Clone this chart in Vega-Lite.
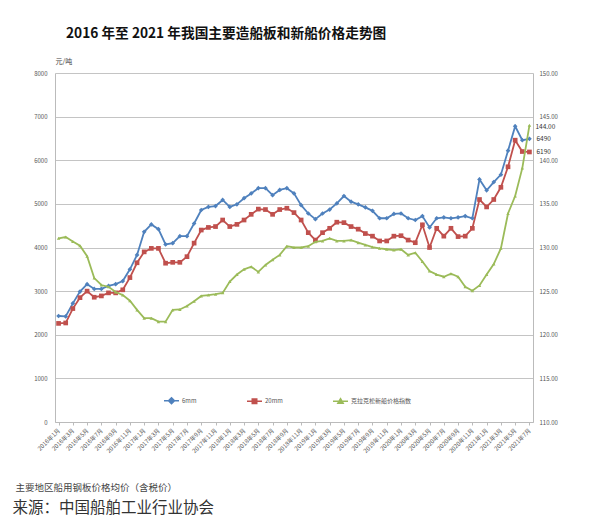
{
  "$schema": "https://vega.github.io/schema/vega-lite/v6.json",
  "width": 478,
  "height": 349,
  "autosize": {"type": "none"},
  "padding": {"left": 55, "top": 73, "right": 67, "bottom": 106},
  "background": "white",
  "title": {"text": "2016 年至 2021 年我国主要造船板和新船价格走势图", "anchor": "start", "frame": "group", "dx": 11, "dy": -12, "fontSize": 13.7, "fontWeight": "bold", "font": "Noto Sans CJK SC", "color": "#111"},
  "config": {"font": "Noto Sans CJK SC", "view": {"stroke": null}},
  "data": {"values": [
    {"m": "2016年1月", "6mm": 2430, "20mm": 2260, "idx": 131.05},
    {"m": "2016年2月", "6mm": 2420, "20mm": 2270, "idx": 131.2},
    {"m": "2016年3月", "6mm": 2720, "20mm": 2600, "idx": 130.7},
    {"m": "2016年4月", "6mm": 2990, "20mm": 2850, "idx": 130.2},
    {"m": "2016年5月", "6mm": 3160, "20mm": 3000, "idx": 129.0},
    {"m": "2016年6月", "6mm": 3050, "20mm": 2860, "idx": 126.5},
    {"m": "2016年7月", "6mm": 3050, "20mm": 2890, "idx": 125.7},
    {"m": "2016年8月", "6mm": 3120, "20mm": 2960, "idx": 125.5},
    {"m": "2016年9月", "6mm": 3160, "20mm": 2960, "idx": 124.9},
    {"m": "2016年10月", "6mm": 3230, "20mm": 3030, "idx": 124.55},
    {"m": "2016年11月", "6mm": 3500, "20mm": 3310, "idx": 123.9},
    {"m": "2016年12月", "6mm": 3830, "20mm": 3650, "idx": 122.85},
    {"m": "2017年1月", "6mm": 4360, "20mm": 3900, "idx": 121.9},
    {"m": "2017年2月", "6mm": 4530, "20mm": 3980, "idx": 121.9},
    {"m": "2017年3月", "6mm": 4420, "20mm": 3980, "idx": 121.5},
    {"m": "2017年4月", "6mm": 4070, "20mm": 3640, "idx": 121.5},
    {"m": "2017年5月", "6mm": 4100, "20mm": 3660, "idx": 122.85},
    {"m": "2017年6月", "6mm": 4260, "20mm": 3660, "idx": 122.9},
    {"m": "2017年7月", "6mm": 4260, "20mm": 3790, "idx": 123.3},
    {"m": "2017年8月", "6mm": 4550, "20mm": 4100, "idx": 123.85},
    {"m": "2017年9月", "6mm": 4860, "20mm": 4400, "idx": 124.45},
    {"m": "2017年10月", "6mm": 4930, "20mm": 4460, "idx": 124.55},
    {"m": "2017年11月", "6mm": 4950, "20mm": 4480, "idx": 124.65},
    {"m": "2017年12月", "6mm": 5090, "20mm": 4630, "idx": 124.8},
    {"m": "2018年1月", "6mm": 4930, "20mm": 4480, "idx": 126.1},
    {"m": "2018年2月", "6mm": 4990, "20mm": 4530, "idx": 126.9},
    {"m": "2018年3月", "6mm": 5130, "20mm": 4630, "idx": 127.5},
    {"m": "2018年4月", "6mm": 5240, "20mm": 4760, "idx": 127.8},
    {"m": "2018年5月", "6mm": 5360, "20mm": 4880, "idx": 127.2},
    {"m": "2018年6月", "6mm": 5360, "20mm": 4870, "idx": 128.0},
    {"m": "2018年7月", "6mm": 5200, "20mm": 4760, "idx": 128.6},
    {"m": "2018年8月", "6mm": 5320, "20mm": 4870, "idx": 129.15},
    {"m": "2018年9月", "6mm": 5360, "20mm": 4900, "idx": 130.15},
    {"m": "2018年10月", "6mm": 5240, "20mm": 4800, "idx": 130.0},
    {"m": "2018年11月", "6mm": 4970, "20mm": 4630, "idx": 130.0},
    {"m": "2018年12月", "6mm": 4780, "20mm": 4340, "idx": 130.15},
    {"m": "2019年1月", "6mm": 4650, "20mm": 4170, "idx": 130.65},
    {"m": "2019年2月", "6mm": 4780, "20mm": 4340, "idx": 130.75},
    {"m": "2019年3月", "6mm": 4870, "20mm": 4440, "idx": 131.05},
    {"m": "2019年4月", "6mm": 5010, "20mm": 4580, "idx": 130.75},
    {"m": "2019年5月", "6mm": 5180, "20mm": 4570, "idx": 130.75},
    {"m": "2019年6月", "6mm": 5050, "20mm": 4480, "idx": 130.85},
    {"m": "2019年7月", "6mm": 4990, "20mm": 4420, "idx": 130.55},
    {"m": "2019年8月", "6mm": 4920, "20mm": 4320, "idx": 130.3},
    {"m": "2019年9月", "6mm": 4840, "20mm": 4260, "idx": 130.05},
    {"m": "2019年10月", "6mm": 4670, "20mm": 4150, "idx": 129.9},
    {"m": "2019年11月", "6mm": 4670, "20mm": 4150, "idx": 129.8},
    {"m": "2019年12月", "6mm": 4770, "20mm": 4260, "idx": 129.7},
    {"m": "2020年1月", "6mm": 4780, "20mm": 4270, "idx": 129.8},
    {"m": "2020年2月", "6mm": 4670, "20mm": 4170, "idx": 129.15},
    {"m": "2020年3月", "6mm": 4630, "20mm": 4110, "idx": 129.4},
    {"m": "2020年4月", "6mm": 4720, "20mm": 4520, "idx": 128.4},
    {"m": "2020年5月", "6mm": 4460, "20mm": 4000, "idx": 127.3},
    {"m": "2020年6月", "6mm": 4670, "20mm": 4440, "idx": 126.9},
    {"m": "2020年7月", "6mm": 4690, "20mm": 4260, "idx": 126.65},
    {"m": "2020年8月", "6mm": 4670, "20mm": 4440, "idx": 127.0},
    {"m": "2020年9月", "6mm": 4690, "20mm": 4250, "idx": 126.65},
    {"m": "2020年10月", "6mm": 4720, "20mm": 4260, "idx": 125.5},
    {"m": "2020年11月", "6mm": 4670, "20mm": 4440, "idx": 125.05},
    {"m": "2020年12月", "6mm": 5560, "20mm": 5100, "idx": 125.65},
    {"m": "2021年1月", "6mm": 5310, "20mm": 4930, "idx": 126.9},
    {"m": "2021年2月", "6mm": 5500, "20mm": 5100, "idx": 128.1},
    {"m": "2021年3月", "6mm": 5670, "20mm": 5380, "idx": 129.9},
    {"m": "2021年4月", "6mm": 6220, "20mm": 5850, "idx": 133.9},
    {"m": "2021年5月", "6mm": 6780, "20mm": 6460, "idx": 135.9},
    {"m": "2021年6月", "6mm": 6460, "20mm": 6200, "idx": 139.1},
    {"m": "2021年7月", "6mm": 6490, "20mm": 6190, "idx": 144.0}
  ]},
  "encoding": {
    "x": {
      "field": "m", "type": "ordinal", "sort": null,
      "scale": {"type": "point", "padding": 0.5},
      "axis": {
        "values": ["2016年1月","2016年3月","2016年5月","2016年7月","2016年9月","2016年11月","2017年1月","2017年3月","2017年5月","2017年7月","2017年9月","2017年11月","2018年1月","2018年3月","2018年5月","2018年7月","2018年9月","2018年11月","2019年1月","2019年3月","2019年5月","2019年7月","2019年9月","2019年11月","2020年1月","2020年3月","2020年5月","2020年7月","2020年9月","2020年11月","2021年1月","2021年3月","2021年5月","2021年7月"],
        "labelAngle": -45, "labelAlign": "right", "labelBaseline": "middle",
        "labelFontSize": 6, "labelColor": "#555", "labelPadding": 4,
        "grid": false, "domainColor": "#bbbbbb", "tickColor": "#bbbbbb", "tickSize": 3,
        "title": "主要地区船用钢板价格均价（含税价）",
        "titleX": -40, "titleY": 65, "titleAlign": "left", "titleBaseline": "middle",
        "titleFontSize": 9.5, "titleFontWeight": "normal", "titleColor": "#444"
      }
    }
  },
  "layer": [
    {
      "transform": [{"fold": ["6mm", "20mm"], "as": ["s", "v"]}],
      "encoding": {
        "y": {
          "field": "v", "type": "quantitative",
          "scale": {"domain": [0, 8000], "nice": false, "zero": false},
          "axis": {
            "values": [0,1000,2000,3000,4000,5000,6000,7000,8000], "format": "d",
            "title": "元/吨", "titleAngle": 0, "titleX": 0, "titleY": -12, "titleAlign": "left", "titleBaseline": "middle",
            "titleFontSize": 7, "titleFontWeight": "normal", "titleColor": "#444",
            "labelFontSize": 6, "labelColor": "#555", "labelPadding": 8, "ticks": false,
            "domainColor": "#bbbbbb", "grid": true, "gridColor": "#c4c4c4"
          }
        },
        "color": {
          "field": "s", "type": "nominal",
          "scale": {"domain": ["6mm", "20mm", "idx"], "range": ["#4F81BD", "#C0504D", "#9BBB59"]},
          "legend": {
            "title": null, "orient": "none", "legendX": 108, "legendY": 319, "direction": "horizontal",
            "columnPadding": 47, "labelFontSize": 6, "labelColor": "#555", "symbolSize": 225, "labelOffset": 2,
            "symbolStrokeWidth": 1.5,
            "labelExpr": "datum.label === 'idx' ? '克拉克松新船价格指数' : datum.label",
            "encode": {"symbols": {"update": {
              "shape": {"signal": "datum.value === '6mm' ? 'M-1,0H1M0,-0.4L0.4,0L0,0.4L-0.4,0Z' : datum.value === '20mm' ? 'M-1,0H1M-0.3,-0.3H0.3V0.3H-0.3Z' : 'M-1,0H1M0,-0.35L0.35,0.25H-0.35Z'"},
              "fill": {"signal": "scale('color', datum.value)"},
              "stroke": {"signal": "scale('color', datum.value)"},
              "strokeWidth": {"value": 1.5},
              "opacity": {"value": 1}
            }}}
          }
        }
      },
      "layer": [
        {"mark": {"type": "line", "strokeWidth": 1.8}},
        {"mark": {"type": "point", "filled": true, "opacity": 1, "size": 22},
         "encoding": {"shape": {"field": "s", "type": "nominal", "scale": {"domain": ["6mm", "20mm", "idx", "other"], "range": ["diamond", "square", "triangle-up", "circle"]}, "legend": null}}},
        {"transform": [{"filter": "datum.m === '2021年7月'"}],
         "mark": {"type": "text", "align": "left", "baseline": "middle", "dx": 7, "fontSize": 6.5},
         "encoding": {"text": {"field": "v", "type": "quantitative", "format": "d"}, "color": {"value": "#333"}}}
      ]
    },
    {
      "transform": [{"fold": ["idx"], "as": ["s", "v"]}],
      "encoding": {
        "y": {
          "field": "v", "type": "quantitative",
          "scale": {"domain": [110, 150], "nice": false, "zero": false},
          "axis": {
            "orient": "right", "values": [110,115,120,125,130,135,140,145,150], "format": ".2f",
            "grid": false, "ticks": false, "labelPadding": 6, "labelFontSize": 6, "labelColor": "#555",
            "domainColor": "#bbbbbb",
            "title": "来源：中国船舶工业行业协会", "titleAngle": 0, "titleX": -521, "titleY": 434,
            "titleAlign": "left", "titleBaseline": "middle", "titleFontSize": 15.5, "titleFontWeight": "normal", "titleColor": "#333"
          }
        },
        "color": {"field": "s", "type": "nominal"}
      },
      "layer": [
        {"mark": {"type": "line", "strokeWidth": 1.8}},
        {"mark": {"type": "point", "filled": true, "opacity": 1, "size": 12},
         "encoding": {"shape": {"field": "s", "type": "nominal", "legend": null}}},
        {"transform": [{"filter": "datum.m === '2021年7月'"}],
         "mark": {"type": "text", "align": "left", "baseline": "middle", "dx": 6, "dy": 1.5, "fontSize": 6.5},
         "encoding": {"text": {"field": "v", "type": "quantitative", "format": ".2f"}, "color": {"value": "#333"}}}
      ]
    }
  ],
  "resolve": {"scale": {"y": "independent"}}
}
